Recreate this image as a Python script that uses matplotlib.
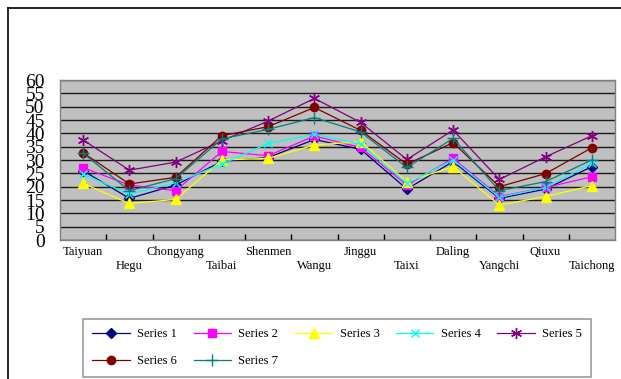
import matplotlib
matplotlib.use("Agg")
import matplotlib.pyplot as plt
from matplotlib.lines import Line2D
import numpy as np

categories = ["Taiyuan", "Hegu", "Chongyang", "Taibai", "Shenmen", "Wangu",
              "Jinggu", "Taixi", "Daling", "Yangchi", "Qiuxu", "Taichong"]

series1 = [26.0, 15.6, 20.6, 29.5, 30.9, 37.7, 34.0, 19.1, 29.4, 15.6, 19.1, 27.5]
series2 = [27.1, 20.6, 18.5, 33.2, 31.6, 39.0, 34.7, 20.6, 30.6, 16.3, 19.7, 23.7]
series3 = [21.2, 13.7, 15.2, 30.0, 30.6, 35.6, 36.9, 21.9, 27.5, 13.1, 16.3, 20.4]
series4 = [24.7, 17.2, 21.5, 28.5, 36.2, 39.6, 36.0, 21.2, 30.0, 16.0, 19.7, 28.8]
series5 = [37.5, 26.2, 29.2, 37.2, 44.6, 53.1, 44.1, 30.2, 41.2, 22.7, 31.2, 39.1]
series6 = [32.7, 21.0, 23.5, 39.1, 42.5, 49.7, 41.1, 28.4, 36.5, 20.0, 24.9, 34.6]
series7 = [32.5, 18.5, 23.0, 37.9, 41.5, 45.9, 40.5, 27.2, 38.1, 18.5, 21.9, 30.0]

series_names = ["Series 1", "Series 2", "Series 3", "Series 4", "Series 5", "Series 6", "Series 7"]
y_ticks = list(range(0, 61, 5))

W, H = 621, 379
fig = plt.figure(figsize=(W / 100, H / 100), dpi=100)
fig.patch.set_facecolor("white")

# outer chart frame
fig.add_artist(Line2D([8 / W, 1.0], [1 - 8 / H, 1 - 8 / H], transform=fig.transFigure,
                      color="black", lw=1.2))
fig.add_artist(Line2D([8 / W, 8 / W], [0.0, 1 - 8 / H], transform=fig.transFigure,
                      color="black", lw=1.2))

ax = fig.add_axes([60 / W, 1 - 240 / H, 555 / W, 160 / H])
ax.set_facecolor("#C0C0C0")
for s in ax.spines.values():
    s.set_color("#808080")
    s.set_linewidth(1.0)

styles = [
    dict(color="#000080", marker="D", ms=5),
    dict(color="#FF00FF", marker="s", ms=6),
    dict(color="#FFFF00", marker="^", ms=7),
    dict(color="#00FFFF", marker="x", ms=6, mew=1.0),
    dict(color="#800080", marker=(6, 2, 0), ms=8, mew=1.0),
    dict(color="#800000", marker="o", ms=6),
    dict(color="#008080", marker="+", ms=8, mew=1.0),
]
data = [series1, series2, series3, series4, series5, series6, series7]
x = np.arange(len(categories))
handles = []
for name, vals, st in zip(series_names, data, styles):
    h, = ax.plot(x, vals, lw=0.9, label=name, zorder=3, **st)
    handles.append(h)

ax.set_xlim(-0.5, len(categories) - 0.5)
ax.set_ylim(0, 60)
ax.set_yticks(y_ticks)
ax.set_yticklabels([str(v) for v in y_ticks], fontfamily="Liberation Serif", fontsize=14)
ax.tick_params(axis="y", length=0, pad=11)
ax.yaxis.grid(True, color="#1a1a1a", lw=1.0)
ax.set_axisbelow(True)

ax.set_xticks(x)
labels = [c if i % 2 == 0 else "\n" + c for i, c in enumerate(categories)]
ax.set_xticklabels(labels, fontfamily="Liberation Serif", fontsize=9, linespacing=1.25)
ax.tick_params(axis="x", which="major", length=0, pad=4)
ax.set_xticks(np.arange(0.5, len(categories) - 1, 1.0), minor=True)
ax.tick_params(axis="x", which="minor", direction="in", length=4, width=1, color="black")

order = [0, 5, 1, 6, 2, 3, 4]
leg = fig.legend([handles[i] for i in order], [series_names[i] for i in order],
                 ncol=5, loc="upper left", bbox_to_anchor=(83 / W, 1 - 319 / H),
                 bbox_transform=fig.transFigure,
                 prop=dict(family="Liberation Serif", size=9),
                 frameon=True, fancybox=False, edgecolor="#808080",
                 handlelength=3.0, handletextpad=0.6, columnspacing=1.3,
                 labelspacing=1.2, borderpad=0.75, borderaxespad=0)
leg.get_frame().set_linewidth(1.2)

fig.savefig("out.png", dpi=100)
